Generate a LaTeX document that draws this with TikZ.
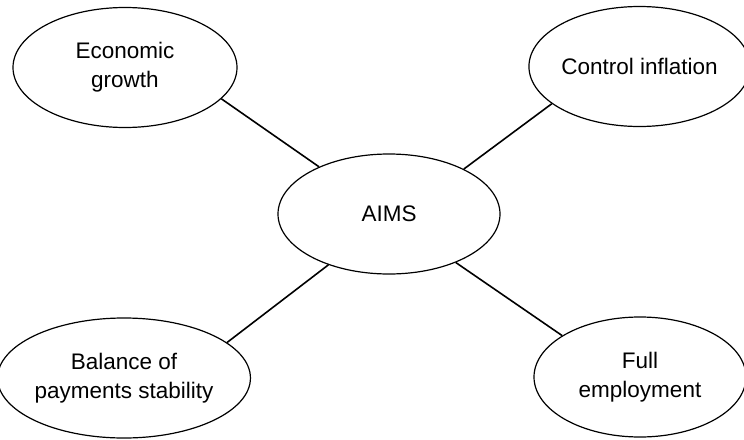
\documentclass[tikz,border=0pt]{standalone}
\usepackage{fontspec}
\setmainfont{Liberation Sans}
\usetikzlibrary{shapes.geometric}

\begin{document}
\begin{tikzpicture}[x=1pt,y=-1pt,
    aim/.style={draw,ellipse,line width=1.2pt,inner sep=0pt,align=center,
      minimum height=120pt,font=\fontsize{22.5}{29}\selectfont},
    link/.style={line width=1.6pt}]
    \useasboundingbox (0,0) rectangle (744,439);
    \node[aim,minimum width=224pt] (econ) at (125,67.5) {Economic\\growth};
    \node[aim,minimum width=211pt] (ctrl) at (639.5,66.5) {Control inflation};
    \node[aim,minimum width=222pt] (aims) at (389,214) {AIMS};
    \node[aim,minimum width=222pt] (bal) at (124,378) {Balance of\\payments stability};
    \node[aim,minimum width=212pt] (full) at (640,377) {Full\\employment};
    \draw[link] (econ.-18) -- (aims.146.5);
    \draw[link] (ctrl.203.9) -- (aims.31.9);
    \draw[link] (bal.19.4) -- (aims.220.4);
    \draw[link] (full.152.5) -- (aims.-36);
  \end{tikzpicture}
\end{document}
